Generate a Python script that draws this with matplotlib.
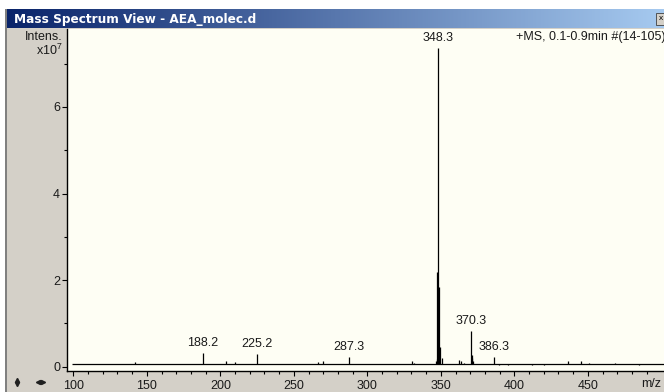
import numpy as np
import matplotlib
matplotlib.use("Agg")
import matplotlib.pyplot as plt
from matplotlib.lines import Line2D
from matplotlib.patches import Rectangle
from matplotlib.colors import LinearSegmentedColormap

# ---------------- data (intensity in units of 1e7) ----------------
peak_mz = [142.0, 188.2, 203.6, 209.8, 225.2, 266.6, 269.8, 287.3,
           330.5, 332.0, 346.4, 347.2, 347.7, 348.3, 349.0, 349.5, 350.5,
           362.6, 363.5, 365.5, 370.3, 370.9, 371.4, 372.0, 386.3,
           389.5, 395.8, 404.0, 412.3, 420.5, 436.2, 445.6, 450.8,
           468.6, 484.5]
peak_int = [0.10, 0.31, 0.13, 0.10, 0.29, 0.10, 0.12, 0.23,
            0.12, 0.09, 0.14, 0.17, 2.19, 7.36, 1.85, 0.45, 0.20,
            0.15, 0.12, 0.08, 0.83, 0.27, 0.20, 0.12, 0.23,
            0.05, 0.05, 0.06, 0.05, 0.05, 0.12, 0.14, 0.09,
            0.08, 0.05]
baseline_level = 0.07
baseline_range = [99.0, 502.0]

label_mz = [188.2, 225.2, 287.3, 348.3, 370.3, 386.3]
label_int = [0.31, 0.29, 0.23, 7.36, 0.83, 0.23]
label_text = ["188.2", "225.2", "287.3", "348.3", "370.3", "386.3"]

x_major = [100, 150, 200, 250, 300, 350, 400, 450]
y_major = [0, 2, 4, 6]
y_minor = [1, 3, 5, 7]

title_text = "Mass Spectrum View - AEA_molec.d"
header_text = "+MS, 0.1-0.9min #(14-105)"

# ---------------- figure ----------------
W, H = 664, 392
plt.rcParams['font.family'] = ['Liberation Sans', 'DejaVu Sans']
plt.rcParams['mathtext.fontset'] = 'custom'
plt.rcParams['mathtext.rm'] = 'Liberation Sans'
fig = plt.figure(figsize=(W / 100, H / 100), dpi=100)
fig.patch.set_facecolor("#d4d0c8")
FS = 9
TXT = "#1a1a1a"

def fx(x):
    return x / W

def fy(y):
    return 1 - y / H

# white outer frame strips (top, left)
fig.add_artist(Rectangle((0, fy(9)), 1, 9 / H, transform=fig.transFigure,
                         facecolor="white", edgecolor="none"))
fig.add_artist(Rectangle((0, 0), fx(5), 1, transform=fig.transFigure,
                         facecolor="white", edgecolor="none"))
fig.add_artist(Rectangle((fx(5), 0), fx(2), fy(9), transform=fig.transFigure,
                         facecolor="#808080", edgecolor="none"))

# title bar gradient
tax = fig.add_axes([fx(7), fy(28), fx(W - 7), 19 / H])
cmap = LinearSegmentedColormap.from_list("tb", ["#0a246a", "#a6caf0"])
tax.imshow(np.linspace(0, 1, 256)[None, :], aspect="auto", cmap=cmap,
           extent=[0, 1, 0, 1])
tax.set_axis_off()
fig.text(fx(14), fy(19), title_text, color="white", fontsize=8.7,
         fontweight="bold", va="center", ha="left", family="DejaVu Sans")
# close button (clipped)
fig.add_artist(Rectangle((fx(656), fy(25)), fx(12), 12 / H,
                         transform=fig.transFigure, facecolor="#d4d0c8",
                         edgecolor="#404040", lw=0.6))
fig.text(fx(659), fy(19), "x", fontsize=6, va="center", ha="left",
         color="black")

# ---------------- main axes ----------------
ax = fig.add_axes([fx(67), fy(370.5), fx(W - 67) + 0.01, (370.5 - 29) / H])
ax.set_facecolor("#fefef4")
ax.set_xlim(95.7, 501.8 + 0.01 * W / 1.47)
ax.set_ylim(-0.088, 7.80)

ax.hlines(baseline_level, baseline_range[0], baseline_range[1],
          color="black", lw=0.9)
ax.vlines(peak_mz, baseline_level, peak_int, color="black", lw=0.9)

for m, v, t in zip(label_mz, label_int, label_text):
    ax.annotate(t, (m, v), xytext=(0, 3), textcoords="offset points",
                ha="center", va="bottom", fontsize=FS, color=TXT)

fig.text(fx(516), fy(37), header_text, ha="left", va="center", fontsize=FS,
         color=TXT)

for s in ["top", "right"]:
    ax.spines[s].set_visible(False)
ax.spines["left"].set_linewidth(1.0)
ax.spines["bottom"].set_linewidth(1.0)

ax.set_yticks(y_major)
ax.set_yticklabels([str(v) for v in y_major])
ax.set_yticks(y_minor, minor=True)
ax.set_xticks(x_major)
ax.set_xticklabels([str(v) for v in x_major])
ax.set_xticks(np.arange(100, 500, 10), minor=True)
ax.tick_params(axis="both", which="major", direction="out", length=3.5,
               width=0.8, labelsize=FS, labelcolor=TXT, pad=1.5)
ax.tick_params(axis="both", which="minor", direction="out", length=2,
               width=0.8)
ax.tick_params(axis="x", which="major", pad=3)

fig.text(fx(63), fy(40), "Intens.", ha="right", va="baseline", fontsize=FS,
         color=TXT)
fig.text(fx(63), fy(55), r"x10$^7$", ha="right", va="baseline", fontsize=FS,
         color=TXT)
fig.text(fx(641), fy(384), "m/z", ha="left", va="center", fontsize=FS,
         color=TXT)

# little navigation icons bottom-left
for (x, y, mk) in [(17, 379.5, "^"), (17, 384, "v"), (38, 381.5, "<"),
                   (42.5, 381.5, ">")]:
    fig.add_artist(Line2D([fx(x)], [fy(y)], marker=mk, markersize=3,
                          color="#202020", transform=fig.transFigure,
                          linestyle="none"))

fig.savefig("out.png", dpi=100, facecolor=fig.get_facecolor())
